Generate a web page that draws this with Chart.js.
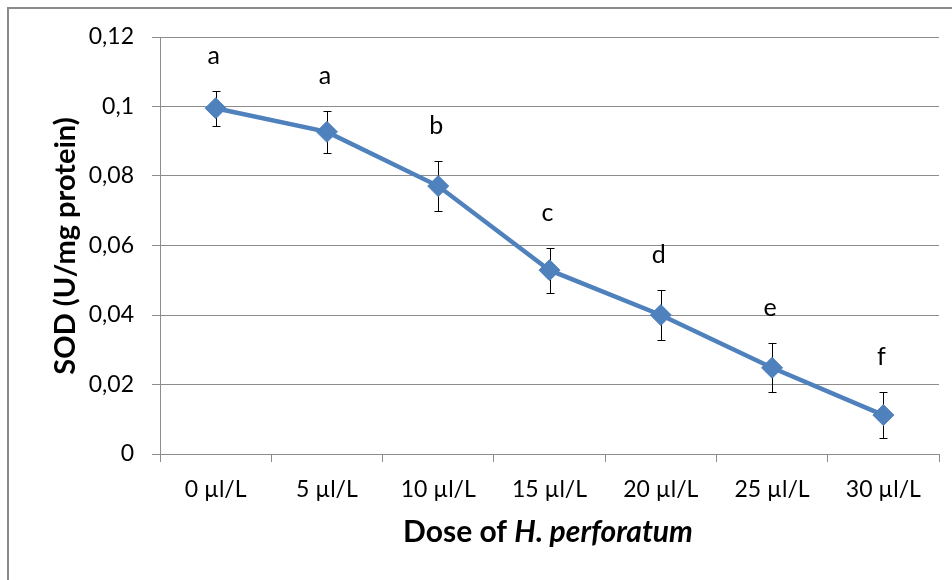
<!DOCTYPE html>
<html>
<head>
<meta charset="utf-8">
<script src="https://cdn.jsdelivr.net/npm/chart.js@4/dist/chart.umd.min.js"></script>
<style>
  html, body { margin: 0; padding: 0; background: #fff; }
  #wrap { width: 952px; height: 580px; position: relative; }
</style>
</head>
<body>
<div id="wrap"><canvas id="c" width="952" height="580"></canvas></div>
<script>
const categories = ['0 µl/L', '5 µl/L', '10 µl/L', '15 µl/L', '20 µl/L', '25 µl/L', '30 µl/L'];
const sodValues = [0.0995, 0.0927, 0.0771, 0.0529, 0.0400, 0.0248, 0.0112];
const sodErrors = [0.0051, 0.0061, 0.0073, 0.0065, 0.0072, 0.0071, 0.0067];
const groupLetters = ['a', 'a', 'b', 'c', 'd', 'e', 'f'];
const yTickValues = [0, 0.02, 0.04, 0.06, 0.08, 0.1, 0.12];
const yTickLabels = ['0', '0,02', '0,04', '0,06', '0,08', '0,1', '0,12'];
const yAxisTitle = 'SOD (U/mg protein)';
const xTitleParts = [{ t: 'Dose of ', italic: false }, { t: 'H. perforatum', italic: true }];

const FONT = 'Lato, "Liberation Sans", sans-serif';
const GRID = '#8c8c8c';

const extras = {
  id: 'extras',
  beforeDraw(chart) {
    const ctx = chart.ctx;
    ctx.save();
    ctx.fillStyle = '#fff';
    ctx.fillRect(0, 0, chart.width, chart.height);
    ctx.strokeStyle = '#8a8a8a';
    ctx.lineWidth = 2;
    ctx.strokeRect(8, 8, chart.width + 20, chart.height + 20);
    ctx.restore();
  },
  beforeDatasetsDraw(chart) {
    const ctx = chart.ctx;
    const ys = chart.scales.y;
    const meta = chart.getDatasetMeta(0);
    ctx.save();
    ctx.strokeStyle = '#000';
    ctx.lineWidth = 1;
    meta.data.forEach((pt, i) => {
      const x = Math.round(pt.x) + 0.5;
      const yt = Math.round(ys.getPixelForValue(sodValues[i] + sodErrors[i])) + 0.5;
      const yb = Math.round(ys.getPixelForValue(sodValues[i] - sodErrors[i])) + 0.5;
      ctx.beginPath();
      ctx.moveTo(x, yt); ctx.lineTo(x, yb);
      ctx.moveTo(x - 4, yt); ctx.lineTo(x + 4, yt);
      ctx.moveTo(x - 4, yb); ctx.lineTo(x + 4, yb);
      ctx.stroke();
    });
    ctx.restore();
  },
  afterDatasetsDraw(chart) {
    const ctx = chart.ctx;
    const ys = chart.scales.y;
    const meta = chart.getDatasetMeta(0);
    ctx.save();
    ctx.fillStyle = '#000';
    ctx.font = '25px ' + FONT;
    ctx.textAlign = 'center';
    ctx.textBaseline = 'middle';
    meta.data.forEach((pt, i) => {
      const yt = ys.getPixelForValue(sodValues[i] + sodErrors[i]);
      ctx.fillText(groupLetters[i], pt.x - 2, yt - 35);
    });
    // y axis title
    ctx.save();
    ctx.translate(75, 246);
    ctx.rotate(-Math.PI / 2);
    ctx.textBaseline = 'alphabetic';
    ctx.font = 'bold 29px ' + FONT;
    ctx.fillText(yAxisTitle, 0, 0);
    ctx.restore();
    // x axis title with italic part
    const fonts = xTitleParts.map(p => (p.italic ? 'italic ' : '') + 'bold 30px ' + FONT);
    let total = 0;
    const widths = xTitleParts.map((p, i) => { ctx.font = fonts[i]; const w = ctx.measureText(p.t).width; total += w; return w; });
    let x = 548 - total / 2;
    ctx.textAlign = 'left';
    ctx.textBaseline = 'alphabetic';
    xTitleParts.forEach((p, i) => {
      ctx.font = fonts[i];
      ctx.fillText(p.t, x, 542);
      x += widths[i];
    });
    ctx.restore();
  }
};

new Chart(document.getElementById('c'), {
  type: 'line',
  data: {
    labels: categories,
    datasets: [{
      data: sodValues,
      borderColor: '#4F81BD',
      backgroundColor: '#4F81BD',
      borderWidth: 4.5,
      pointStyle: 'rectRot',
      pointRadius: 10.5,
      pointBorderWidth: 1,
      pointBackgroundColor: '#4F81BD',
      pointBorderColor: '#4F81BD',
      tension: 0
    }]
  },
  options: {
    responsive: false,
    animation: false,
    devicePixelRatio: 1,
    layout: { padding: { top: 37, right: 13, left: 0, bottom: 0 } },
    plugins: { legend: { display: false }, tooltip: { enabled: false } },
    scales: {
      x: {
        offset: true,
        grid: { display: true, drawOnChartArea: false, drawTicks: true, tickLength: 8, offset: true, color: GRID, lineWidth: 1 },
        border: { display: true, color: GRID, width: 1 },
        ticks: { color: '#000', font: { family: FONT, size: 23 }, padding: 14, maxRotation: 0, autoSkip: false },
        afterFit(s) { s.height = 126; }
      },
      y: {
        min: 0, max: 0.12,
        afterBuildTicks(s) { s.ticks = yTickValues.map(v => ({ value: v })); },
        grid: { color: GRID, lineWidth: 1, drawTicks: true, tickLength: 8 },
        border: { display: true, color: GRID, width: 1 },
        ticks: {
          color: '#000', font: { family: FONT, size: 23 }, padding: 18,
          callback(v) { const i = yTickValues.findIndex(t => Math.abs(t - v) < 1e-9); return i >= 0 ? yTickLabels[i] : ''; }
        },
        afterFit(s) { s.width = 160; }
      }
    }
  },
  plugins: [extras]
});
</script>
</body>
</html>
